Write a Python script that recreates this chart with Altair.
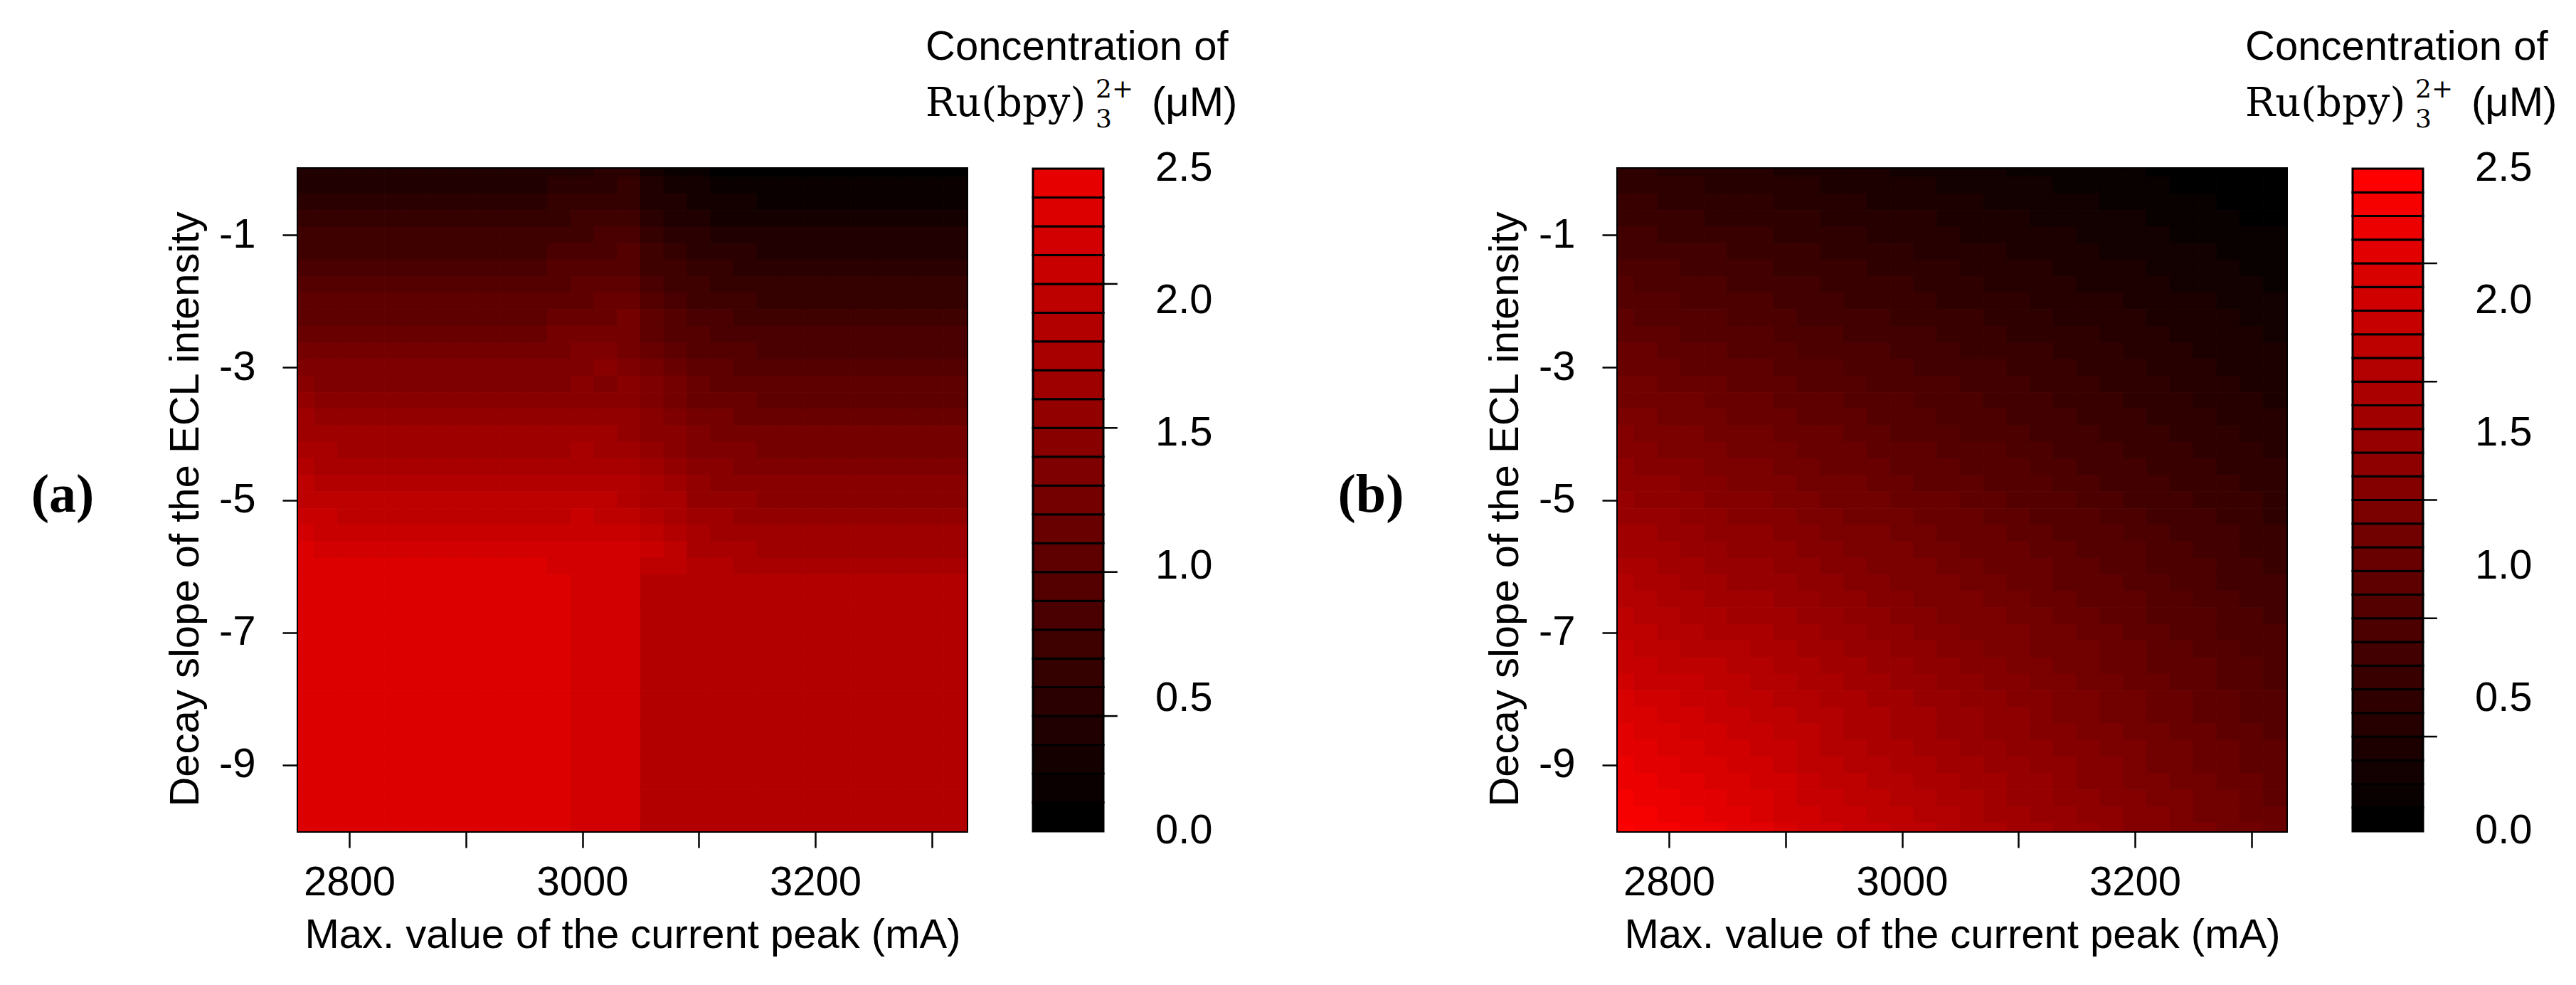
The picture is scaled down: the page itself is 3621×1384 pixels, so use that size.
import altair as alt
import pandas as pd

SANS = "Liberation Sans, Arial, sans-serif"
SERIF = "Liberation Serif, Times New Roman, serif"
MATH = "DejaVu Serif, Liberation Serif, serif"

# ---------------- data ----------------
x_vals = [2760, 2780, 2800, 2820, 2840, 2860, 2880, 2900, 2920, 2940, 2960, 2980, 3000, 3020, 3040,
          3060, 3080, 3100, 3120, 3140, 3160, 3180, 3200, 3220, 3240, 3260, 3280, 3300, 3320]
y_vals = [0, -0.25, -0.5, -0.75, -1, -1.25, -1.5, -1.75, -2, -2.25, -2.5, -2.75, -3, -3.25, -3.5,
          -3.75, -4, -4.25, -4.5, -4.75, -5, -5.25, -5.5, -5.75, -6, -6.25, -6.5, -6.75, -7, -7.25,
          -7.5, -7.75, -8, -8.25, -8.5, -8.75, -9, -9.25, -9.5, -9.75, -10]

# panel (a): vertical profiles (y = 0 ... -10) read in each x column
a_left = [0.41, 0.49, 0.56, 0.64, 0.71, 0.79, 0.86, 0.94, 1.01, 1.09, 1.16, 1.24, 1.31, 1.39, 1.46,
          1.54, 1.61, 1.69, 1.76, 1.84, 1.91, 1.99, 2.06, 2.14, 2.21, 2.25, 2.25, 2.25, 2.25, 2.25,
          2.25, 2.25, 2.25, 2.25, 2.25, 2.25, 2.25, 2.25, 2.25, 2.25, 2.25]          # 2800-2960
a_right = [0.13, 0.20, 0.27, 0.33, 0.40, 0.47, 0.54, 0.61, 0.67, 0.74, 0.81, 0.88, 0.95, 1.01, 1.08,
           1.15, 1.22, 1.29, 1.35, 1.42, 1.49, 1.56, 1.63, 1.69, 1.76, 1.85, 1.85, 1.85, 1.85, 1.85,
           1.85, 1.85, 1.85, 1.85, 1.85, 1.85, 1.85, 1.85, 1.85, 1.85, 1.85]         # 3160-3320
a_2760 = [0.41, 0.49, 0.56, 0.64, 0.71, 0.79, 0.86, 0.94, 1.01, 1.09, 1.16, 1.24, 1.34, 1.42, 1.52,
          1.60, 1.67, 1.75, 1.82, 1.90, 1.97, 2.05, 2.12, 2.20, 2.22, 2.25, 2.25, 2.25, 2.25, 2.25,
          2.25, 2.25, 2.25, 2.25, 2.25, 2.25, 2.25, 2.25, 2.25, 2.25, 2.25]
a_2780 = [0.41, 0.49, 0.56, 0.64, 0.71, 0.79, 0.86, 0.94, 1.01, 1.09, 1.16, 1.24, 1.31, 1.39, 1.49,
          1.57, 1.64, 1.72, 1.79, 1.87, 1.94, 2.02, 2.09, 2.17, 2.21, 2.25, 2.25, 2.25, 2.25, 2.25,
          2.25, 2.25, 2.25, 2.25, 2.25, 2.25, 2.25, 2.25, 2.25, 2.25, 2.25]
a_2980 = [0.45, 0.53, 0.60, 0.68, 0.75, 0.83, 0.90, 0.98, 1.05, 1.13, 1.20, 1.28, 1.35, 1.39, 1.46,
          1.54, 1.61, 1.69, 1.76, 1.84, 1.91, 1.99, 2.06, 2.14, 2.19, 2.22, 2.22, 2.22, 2.22, 2.22,
          2.22, 2.22, 2.22, 2.22, 2.22, 2.22, 2.22, 2.22, 2.22, 2.22, 2.22]
a_3000 = [0.48, 0.56, 0.63, 0.71, 0.78, 0.86, 0.93, 1.01, 1.08, 1.16, 1.23, 1.31, 1.38, 1.40, 1.47,
          1.55, 1.62, 1.70, 1.77, 1.85, 1.92, 2.00, 2.07, 2.15, 2.16, 2.15, 2.15, 2.15, 2.15, 2.15,
          2.15, 2.15, 2.15, 2.15, 2.15, 2.15, 2.15, 2.15, 2.15, 2.15, 2.15]
a_3020 = [0.51, 0.59, 0.66, 0.74, 0.81, 0.89, 0.96, 1.04, 1.11, 1.19, 1.26, 1.34, 1.41, 1.39, 1.46,
          1.54, 1.61, 1.69, 1.76, 1.84, 1.91, 1.99, 2.06, 2.14, 2.15, 2.15, 2.15, 2.15, 2.15, 2.15,
          2.15, 2.15, 2.15, 2.15, 2.15, 2.15, 2.15, 2.15, 2.15, 2.15, 2.15]
a_3040 = [0.52, 0.60, 0.67, 0.75, 0.82, 0.90, 0.97, 1.05, 1.12, 1.20, 1.27, 1.27, 1.34, 1.42, 1.49,
          1.50, 1.57, 1.65, 1.72, 1.80, 1.87, 1.95, 2.02, 2.10, 2.12, 2.14, 2.14, 2.14, 2.14, 2.14,
          2.14, 2.14, 2.14, 2.14, 2.14, 2.14, 2.14, 2.14, 2.14, 2.14, 2.14]
a_3060 = [0.33, 0.41, 0.48, 0.56, 0.63, 0.71, 0.78, 0.86, 0.93, 1.01, 1.08, 1.16, 1.23, 1.31, 1.38,
          1.46, 1.49, 1.57, 1.64, 1.72, 1.79, 1.87, 1.94, 2.02, 1.96, 1.88, 1.88, 1.88, 1.88, 1.88,
          1.88, 1.88, 1.88, 1.88, 1.88, 1.88, 1.88, 1.88, 1.88, 1.88, 1.88]
a_3080 = [0.27, 0.35, 0.42, 0.49, 0.56, 0.63, 0.70, 0.78, 0.84, 0.92, 0.99, 1.06, 1.13, 1.20, 1.27,
          1.35, 1.42, 1.49, 1.56, 1.63, 1.70, 1.78, 1.85, 1.92, 1.90, 1.86, 1.86, 1.86, 1.86, 1.86,
          1.86, 1.86, 1.86, 1.86, 1.86, 1.86, 1.86, 1.86, 1.86, 1.86, 1.86]
a_3100 = [0.23, 0.30, 0.37, 0.43, 0.50, 0.57, 0.64, 0.71, 0.77, 0.84, 0.91, 0.98, 1.05, 1.11, 1.18,
          1.25, 1.32, 1.39, 1.45, 1.52, 1.59, 1.66, 1.73, 1.79, 1.86, 1.85, 1.85, 1.85, 1.85, 1.85,
          1.85, 1.85, 1.85, 1.85, 1.85, 1.85, 1.85, 1.85, 1.85, 1.85, 1.85]
a_3120 = [0.19, 0.26, 0.33, 0.39, 0.46, 0.53, 0.60, 0.67, 0.73, 0.80, 0.87, 0.94, 1.01, 1.07, 1.14,
          1.21, 1.28, 1.35, 1.41, 1.48, 1.55, 1.62, 1.69, 1.75, 1.82, 1.85, 1.85, 1.85, 1.85, 1.85,
          1.85, 1.85, 1.85, 1.85, 1.85, 1.85, 1.85, 1.85, 1.85, 1.85, 1.85]
a_3140 = [0.16, 0.23, 0.30, 0.36, 0.43, 0.50, 0.57, 0.64, 0.70, 0.77, 0.84, 0.91, 0.98, 1.04, 1.11,
          1.18, 1.25, 1.32, 1.38, 1.45, 1.52, 1.59, 1.66, 1.72, 1.79, 1.85, 1.85, 1.85, 1.85, 1.85,
          1.85, 1.85, 1.85, 1.85, 1.85, 1.85, 1.85, 1.85, 1.85, 1.85, 1.85]

conc_a_cols = ([a_2760, a_2780] + [a_left] * 9 +
               [a_2980, a_3000, a_3020, a_3040, a_3060, a_3080, a_3100, a_3120, a_3140] +
               [a_right] * 9)

# panel (b): one list per y row (y = 0 first), values left (x=2760) to right (x=3320)
conc_b_rows = [
    [0.62, 0.60, 0.58, 0.56, 0.54, 0.52, 0.50, 0.48, 0.47, 0.45, 0.43, 0.41, 0.39, 0.37, 0.35, 0.33, 0.32, 0.29, 0.28, 0.26, 0.24, 0.22, 0.20, 0.18, 0.16, 0.15, 0.13, 0.11, 0.10],
    [0.67, 0.65, 0.63, 0.61, 0.59, 0.57, 0.55, 0.53, 0.51, 0.49, 0.47, 0.45, 0.43, 0.42, 0.39, 0.38, 0.36, 0.34, 0.32, 0.29, 0.28, 0.26, 0.24, 0.22, 0.19, 0.18, 0.16, 0.14, 0.12],
    [0.73, 0.71, 0.69, 0.67, 0.64, 0.62, 0.60, 0.58, 0.56, 0.54, 0.52, 0.49, 0.48, 0.46, 0.44, 0.42, 0.39, 0.38, 0.35, 0.33, 0.31, 0.29, 0.27, 0.25, 0.23, 0.21, 0.19, 0.17, 0.15],
    [0.78, 0.76, 0.74, 0.72, 0.69, 0.68, 0.65, 0.63, 0.61, 0.59, 0.57, 0.55, 0.52, 0.50, 0.48, 0.46, 0.44, 0.42, 0.39, 0.37, 0.35, 0.33, 0.31, 0.28, 0.26, 0.24, 0.22, 0.19, 0.18],
    [0.84, 0.82, 0.79, 0.77, 0.75, 0.73, 0.70, 0.68, 0.66, 0.64, 0.61, 0.59, 0.57, 0.55, 0.52, 0.49, 0.48, 0.45, 0.43, 0.41, 0.39, 0.36, 0.34, 0.32, 0.29, 0.27, 0.25, 0.23, 0.21],
    [0.89, 0.87, 0.85, 0.82, 0.80, 0.78, 0.75, 0.73, 0.71, 0.68, 0.66, 0.64, 0.61, 0.59, 0.56, 0.54, 0.52, 0.49, 0.47, 0.45, 0.42, 0.39, 0.38, 0.35, 0.33, 0.31, 0.28, 0.26, 0.23],
    [0.95, 0.93, 0.90, 0.88, 0.85, 0.83, 0.80, 0.78, 0.75, 0.73, 0.71, 0.68, 0.66, 0.63, 0.61, 0.58, 0.56, 0.53, 0.51, 0.48, 0.46, 0.44, 0.41, 0.39, 0.36, 0.34, 0.31, 0.29, 0.26],
    [1.01, 0.98, 0.96, 0.93, 0.90, 0.88, 0.85, 0.83, 0.80, 0.78, 0.75, 0.73, 0.70, 0.68, 0.65, 0.62, 0.59, 0.57, 0.55, 0.52, 0.49, 0.47, 0.45, 0.42, 0.39, 0.37, 0.34, 0.32, 0.29],
    [1.06, 1.04, 1.01, 0.98, 0.96, 0.93, 0.90, 0.88, 0.85, 0.82, 0.79, 0.77, 0.74, 0.72, 0.69, 0.67, 0.64, 0.61, 0.59, 0.56, 0.53, 0.51, 0.48, 0.45, 0.43, 0.40, 0.37, 0.35, 0.32],
    [1.12, 1.09, 1.06, 1.04, 1.01, 0.98, 0.95, 0.93, 0.89, 0.87, 0.84, 0.82, 0.79, 0.76, 0.73, 0.71, 0.68, 0.65, 0.62, 0.59, 0.57, 0.54, 0.51, 0.49, 0.46, 0.43, 0.41, 0.38, 0.35],
    [1.17, 1.15, 1.12, 1.09, 1.06, 1.03, 1.00, 0.98, 0.95, 0.92, 0.89, 0.86, 0.83, 0.81, 0.78, 0.75, 0.72, 0.69, 0.66, 0.63, 0.61, 0.58, 0.55, 0.52, 0.49, 0.46, 0.44, 0.41, 0.38],
    [1.23, 1.20, 1.17, 1.14, 1.11, 1.08, 1.05, 1.02, 0.99, 0.97, 0.94, 0.91, 0.88, 0.85, 0.82, 0.79, 0.76, 0.73, 0.70, 0.67, 0.64, 0.61, 0.58, 0.56, 0.53, 0.49, 0.47, 0.44, 0.41],
    [1.29, 1.26, 1.23, 1.19, 1.16, 1.13, 1.10, 1.07, 1.04, 1.01, 0.98, 0.95, 0.92, 0.89, 0.86, 0.83, 0.80, 0.77, 0.74, 0.71, 0.68, 0.65, 0.62, 0.59, 0.56, 0.53, 0.49, 0.47, 0.44],
    [1.34, 1.31, 1.28, 1.25, 1.22, 1.19, 1.15, 1.12, 1.09, 1.06, 1.03, 0.99, 0.97, 0.94, 0.90, 0.87, 0.84, 0.81, 0.78, 0.75, 0.72, 0.69, 0.65, 0.62, 0.59, 0.56, 0.53, 0.49, 0.47],
    [1.39, 1.37, 1.33, 1.30, 1.27, 1.24, 1.20, 1.17, 1.14, 1.11, 1.08, 1.04, 1.01, 0.98, 0.95, 0.91, 0.88, 0.85, 0.82, 0.79, 0.75, 0.72, 0.69, 0.66, 0.62, 0.59, 0.56, 0.53, 0.49],
    [1.45, 1.42, 1.39, 1.35, 1.32, 1.29, 1.25, 1.22, 1.19, 1.15, 1.12, 1.09, 1.06, 1.02, 0.99, 0.96, 0.92, 0.89, 0.86, 0.82, 0.79, 0.76, 0.72, 0.69, 0.66, 0.62, 0.59, 0.56, 0.52],
    [1.51, 1.48, 1.44, 1.41, 1.37, 1.34, 1.30, 1.27, 1.24, 1.20, 1.17, 1.13, 1.09, 1.07, 1.03, 0.99, 0.96, 0.93, 0.89, 0.86, 0.83, 0.79, 0.76, 0.72, 0.69, 0.66, 0.62, 0.59, 0.55],
    [1.56, 1.53, 1.49, 1.46, 1.42, 1.39, 1.35, 1.32, 1.28, 1.25, 1.21, 1.18, 1.14, 1.11, 1.07, 1.04, 1.00, 0.97, 0.93, 0.89, 0.86, 0.83, 0.79, 0.76, 0.72, 0.69, 0.65, 0.62, 0.58],
    [1.62, 1.58, 1.55, 1.51, 1.48, 1.44, 1.40, 1.37, 1.33, 1.29, 1.26, 1.22, 1.19, 1.15, 1.12, 1.08, 1.04, 1.01, 0.97, 0.94, 0.89, 0.86, 0.83, 0.79, 0.76, 0.72, 0.68, 0.65, 0.61],
    [1.68, 1.64, 1.60, 1.57, 1.53, 1.49, 1.45, 1.42, 1.38, 1.34, 1.31, 1.27, 1.23, 1.19, 1.16, 1.12, 1.08, 1.05, 1.01, 0.97, 0.94, 0.89, 0.86, 0.83, 0.79, 0.75, 0.71, 0.68, 0.64],
    [1.73, 1.69, 1.66, 1.62, 1.58, 1.54, 1.50, 1.47, 1.43, 1.39, 1.35, 1.31, 1.28, 1.24, 1.20, 1.16, 1.12, 1.09, 1.05, 1.01, 0.97, 0.93, 0.89, 0.86, 0.82, 0.78, 0.74, 0.71, 0.67],
    [1.79, 1.75, 1.71, 1.67, 1.63, 1.59, 1.55, 1.52, 1.48, 1.44, 1.39, 1.36, 1.32, 1.28, 1.24, 1.20, 1.17, 1.13, 1.09, 1.05, 1.01, 0.97, 0.93, 0.89, 0.85, 0.81, 0.78, 0.74, 0.69],
    [1.84, 1.80, 1.76, 1.72, 1.68, 1.64, 1.60, 1.56, 1.52, 1.48, 1.45, 1.41, 1.37, 1.33, 1.29, 1.25, 1.21, 1.17, 1.13, 1.09, 1.05, 1.01, 0.97, 0.93, 0.89, 0.85, 0.81, 0.77, 0.73],
    [1.89, 1.86, 1.82, 1.78, 1.74, 1.69, 1.65, 1.61, 1.57, 1.53, 1.49, 1.45, 1.41, 1.37, 1.33, 1.29, 1.25, 1.21, 1.16, 1.12, 1.08, 1.04, 1.00, 0.96, 0.92, 0.88, 0.84, 0.79, 0.76],
    [1.96, 1.91, 1.87, 1.83, 1.79, 1.75, 1.70, 1.66, 1.62, 1.58, 1.54, 1.49, 1.45, 1.41, 1.37, 1.33, 1.29, 1.24, 1.20, 1.16, 1.12, 1.08, 1.04, 0.99, 0.95, 0.91, 0.87, 0.83, 0.78],
    [2.01, 1.97, 1.93, 1.88, 1.84, 1.79, 1.75, 1.71, 1.67, 1.63, 1.58, 1.54, 1.49, 1.46, 1.41, 1.37, 1.33, 1.28, 1.24, 1.19, 1.16, 1.11, 1.07, 1.03, 0.98, 0.94, 0.89, 0.86, 0.81],
    [2.07, 2.02, 1.98, 1.94, 1.89, 1.85, 1.80, 1.76, 1.72, 1.67, 1.63, 1.59, 1.54, 1.49, 1.46, 1.41, 1.37, 1.32, 1.28, 1.24, 1.19, 1.15, 1.11, 1.06, 1.02, 0.97, 0.93, 0.89, 0.84],
    [2.12, 2.08, 2.03, 1.99, 1.94, 1.89, 1.86, 1.81, 1.77, 1.72, 1.68, 1.63, 1.59, 1.54, 1.49, 1.45, 1.41, 1.36, 1.32, 1.27, 1.23, 1.18, 1.14, 1.09, 1.05, 1.01, 0.96, 0.92, 0.87],
    [2.18, 2.13, 2.09, 2.04, 1.99, 1.95, 1.91, 1.86, 1.81, 1.77, 1.72, 1.68, 1.63, 1.59, 1.54, 1.49, 1.45, 1.40, 1.36, 1.31, 1.27, 1.22, 1.17, 1.13, 1.08, 1.04, 0.99, 0.95, 0.90],
    [2.23, 2.19, 2.14, 2.09, 2.05, 2.00, 1.96, 1.91, 1.86, 1.82, 1.77, 1.72, 1.68, 1.63, 1.58, 1.54, 1.49, 1.44, 1.39, 1.35, 1.30, 1.26, 1.21, 1.16, 1.12, 1.07, 1.02, 0.98, 0.93],
    [2.29, 2.24, 2.19, 2.15, 2.10, 2.05, 2.01, 1.96, 1.91, 1.86, 1.81, 1.77, 1.72, 1.67, 1.62, 1.58, 1.53, 1.48, 1.43, 1.39, 1.34, 1.29, 1.24, 1.19, 1.15, 1.10, 1.05, 1.01, 0.96],
    [2.35, 2.29, 2.25, 2.20, 2.15, 2.10, 2.06, 2.01, 1.96, 1.91, 1.86, 1.81, 1.76, 1.72, 1.67, 1.62, 1.57, 1.52, 1.47, 1.42, 1.38, 1.33, 1.28, 1.23, 1.18, 1.13, 1.08, 1.04, 0.99],
    [2.40, 2.35, 2.30, 2.25, 2.20, 2.15, 2.11, 2.06, 2.01, 1.96, 1.91, 1.86, 1.81, 1.76, 1.71, 1.66, 1.61, 1.56, 1.51, 1.46, 1.41, 1.36, 1.31, 1.26, 1.21, 1.17, 1.12, 1.07, 1.02],
    [2.46, 2.41, 2.36, 2.31, 2.26, 2.21, 2.16, 2.10, 2.05, 2.00, 1.95, 1.90, 1.85, 1.80, 1.75, 1.70, 1.65, 1.60, 1.55, 1.49, 1.45, 1.39, 1.35, 1.29, 1.25, 1.19, 1.15, 1.09, 1.05],
    [2.51, 2.46, 2.41, 2.36, 2.31, 2.26, 2.21, 2.15, 2.10, 2.05, 1.99, 1.95, 1.89, 1.85, 1.79, 1.74, 1.69, 1.64, 1.59, 1.54, 1.49, 1.43, 1.38, 1.33, 1.28, 1.23, 1.18, 1.13, 1.07],
    [2.57, 2.52, 2.46, 2.41, 2.36, 2.31, 2.26, 2.20, 2.15, 2.09, 2.05, 1.99, 1.94, 1.89, 1.84, 1.78, 1.73, 1.68, 1.63, 1.57, 1.52, 1.47, 1.42, 1.37, 1.31, 1.26, 1.21, 1.16, 1.10],
    [2.63, 2.57, 2.52, 2.47, 2.41, 2.36, 2.31, 2.25, 2.19, 2.15, 2.09, 2.04, 1.99, 1.93, 1.88, 1.83, 1.77, 1.72, 1.67, 1.61, 1.56, 1.51, 1.45, 1.39, 1.35, 1.29, 1.24, 1.19, 1.13],
    [2.68, 2.63, 2.57, 2.52, 2.46, 2.41, 2.36, 2.30, 2.25, 2.19, 2.14, 2.08, 2.03, 1.98, 1.92, 1.87, 1.81, 1.76, 1.70, 1.65, 1.59, 1.54, 1.49, 1.43, 1.38, 1.32, 1.27, 1.22, 1.16],
    [2.74, 2.68, 2.63, 2.57, 2.52, 2.46, 2.41, 2.35, 2.29, 2.24, 2.18, 2.13, 2.07, 2.02, 1.96, 1.91, 1.85, 1.79, 1.74, 1.69, 1.63, 1.58, 1.52, 1.47, 1.41, 1.36, 1.30, 1.25, 1.19],
    [2.79, 2.74, 2.68, 2.62, 2.57, 2.51, 2.46, 2.39, 2.34, 2.29, 2.23, 2.17, 2.12, 2.06, 2.01, 1.95, 1.89, 1.84, 1.78, 1.73, 1.67, 1.61, 1.56, 1.50, 1.44, 1.39, 1.33, 1.28, 1.22],
    [2.85, 2.79, 2.73, 2.68, 2.62, 2.56, 2.51, 2.45, 2.39, 2.33, 2.28, 2.22, 2.16, 2.11, 2.05, 1.99, 1.93, 1.88, 1.82, 1.76, 1.71, 1.65, 1.59, 1.53, 1.48, 1.42, 1.36, 1.31, 1.25],
]

# contour levels: lowest level, step, number of bands
LOW, STEP = 0.1, 0.1
n_bands_a, n_bands_b = 23, 28
cbar_ticks_a = [0.5, 1.0, 1.5, 2.0]
cbar_ticks_b = [0.5, 1.0, 1.5, 2.0, 2.5]
cbar_labels = [0.0, 0.5, 1.0, 1.5, 2.0, 2.5]
x_ticks = [2800, 2900, 3000, 3100, 3200, 3300]
y_ticks = [-1, -3, -5, -7, -9]

# ---------------- tables ----------------
df_a = pd.DataFrame([{"x": x, "y": y, "z": conc_a_cols[i][j]}
                     for i, x in enumerate(x_vals) for j, y in enumerate(y_vals)])
df_b = pd.DataFrame([{"x": x, "y": y, "z": conc_b_rows[j][i]}
                     for j, y in enumerate(y_vals) for i, x in enumerate(x_vals)])


def palette(n, top_red):
    return ["rgb(%d,0,0)" % int(round(top_red * i / (n - 1))) for i in range(n)]


pal_a = palette(n_bands_a, 231)
pal_b = palette(n_bands_b, 255)

PW, PH = 940, 931
BAR_W = 99
HALF_X, HALF_Y = 10, 0.125


def band_expr(field, n):
    return "clamp(floor((datum.%s - %g) / %g + 1e-6), 0, %d)" % (field, LOW, STEP, n - 1)


def text_layer(txt, x, y, font=SANS, size=58, weight="normal", align="left", baseline="alphabetic"):
    return alt.Chart(pd.DataFrame({"t": [txt]})).mark_text(
        font=font, fontSize=size, fontWeight=weight, align=align, baseline=baseline, color="black"
    ).encode(x=alt.value(x), y=alt.value(y), text="t:N")


def heat(df, n, pal, tag, tag_x):
    cscale = alt.Scale(domain=list(range(n)), range=pal)
    rect = alt.Chart(df).transform_calculate(
        x0="datum.x - %g" % HALF_X, x1="datum.x + %g" % HALF_X,
        y0="datum.y - %g" % HALF_Y, y1="datum.y + %g" % HALF_Y,
        band=band_expr("z", n),
    ).mark_rect(clip=True, strokeWidth=1).encode(
        x=alt.X("x0:Q", scale=alt.Scale(domain=[2756, 3330], nice=False, zero=False),
                axis=alt.Axis(values=x_ticks, format="d",
                              labelExpr="datum.value % 200 == 0 ? datum.label : ''",
                              tickSize=23, tickWidth=2.5, tickColor="black",
                              labelPadding=20, labelFontSize=58, labelFont=SANS, labelColor="black",
                              labelFlush=False, labelOverlap=False, domain=False, grid=False,
                              title="Max. value of the current peak (mA)", titleFont=SANS,
                              titleFontSize=58, titleFontWeight="normal", titleColor="black",
                              titleX=PW / 2, titleY=163, titleAlign="center",
                              titleBaseline="alphabetic")),
        x2="x1:Q",
        y=alt.Y("y0:Q", scale=alt.Scale(domain=[-10, 0], nice=False, zero=False),
                axis=alt.Axis(values=y_ticks, labelExpr="'-' + (-datum.value)",
                              tickSize=22, tickWidth=2.5, tickColor="black",
                              labelPadding=38, labelFontSize=58, labelFont=SANS, labelColor="black",
                              labelFlush=False, domain=False, grid=False,
                              title="Decay slope of the ECL intensity", titleFont=SANS,
                              titleFontSize=58, titleFontWeight="normal", titleColor="black",
                              titleAngle=270, titleX=-141, titleY=478, titleAlign="center",
                              titleBaseline="alphabetic")),
        y2="y1:Q",
        color=alt.Color("band:O", scale=cscale, legend=None),
        stroke=alt.Stroke("band:O", scale=cscale, legend=None),
    )
    lab = text_layer(tag, tag_x, 459, font=SERIF, size=76, weight="bold", align="center", baseline="middle")
    return alt.layer(rect, lab).properties(
        width=PW, height=PH, view=alt.ViewBackground(stroke="black", strokeWidth=4)
    )


def cbar(n, pal, ticks, total_w):
    cscale = alt.Scale(domain=list(range(n)), range=pal)
    top = LOW + STEP * n
    ysc = alt.Scale(domain=[LOW, top], nice=False, zero=False)
    xsc = alt.Scale(domain=[0, 1], range=[0, BAR_W])
    bands = pd.DataFrame({"band": list(range(n))})
    band_layer = alt.Chart(bands).transform_calculate(
        lo="%g + %g * datum.band" % (LOW, STEP), hi="%g + %g * (datum.band + 1)" % (LOW, STEP)
    ).mark_rect(stroke="black", strokeWidth=3).encode(
        x=alt.X(datum=0, scale=xsc, axis=None), x2=alt.X2(datum=1),
        y=alt.Y("lo:Q", scale=ysc, axis=None), y2="hi:Q",
        color=alt.Color("band:O", scale=cscale, legend=None),
    )
    tick_layer = alt.Chart(pd.DataFrame({"t": ticks})).mark_rule(color="black", strokeWidth=2.5).encode(
        x=alt.X(datum=1, scale=xsc, axis=None), x2=alt.X2(datum=1.2),
        y=alt.Y("t:Q", scale=ysc, axis=None),
    )
    label_layer = alt.Chart(pd.DataFrame({"v": cbar_labels})).mark_text(
        align="left", baseline="middle", fontSize=58, font=SANS, color="black"
    ).encode(
        x=alt.value(172),
        y=alt.Y("v:Q", scale=alt.Scale(domain=[0, 2.5], nice=False, zero=False), axis=None),
        text=alt.Text("v:Q", format=".1f"),
    )
    titles = [
        text_layer("Concentration of", -151, -153),
        text_layer("Ru(bpy)", -151, -74, font=MATH, size=56),
        text_layer("3", 88, -58, font=MATH, size=36),
        text_layer("2+", 88, -100, font=MATH, size=36),
        text_layer("(\u03bcM)", 167, -74),
    ]
    return alt.layer(band_layer, tick_layer, label_layer, *titles).resolve_scale(
        y="independent"
    ).properties(width=total_w, height=PH)


heat_a = heat(df_a, n_bands_a, pal_a, "(a)", -331)
bar_a = cbar(n_bands_a, pal_a, cbar_ticks_a, 729)
heat_b = heat(df_b, n_bands_b, pal_b, "(b)", -347)
bar_b = cbar(n_bands_b, pal_b, cbar_ticks_b, BAR_W)

chart = alt.hconcat(heat_a, bar_a, heat_b, bar_b, spacing=93, bounds="flush").resolve_scale(
    color="independent", stroke="independent"
).configure_view(
    stroke=None
).properties(padding={"left": 33, "top": 30, "right": 10, "bottom": 10}, background="white")

chart.save("out.html", embed_options={"renderer": "svg", "actions": False})
